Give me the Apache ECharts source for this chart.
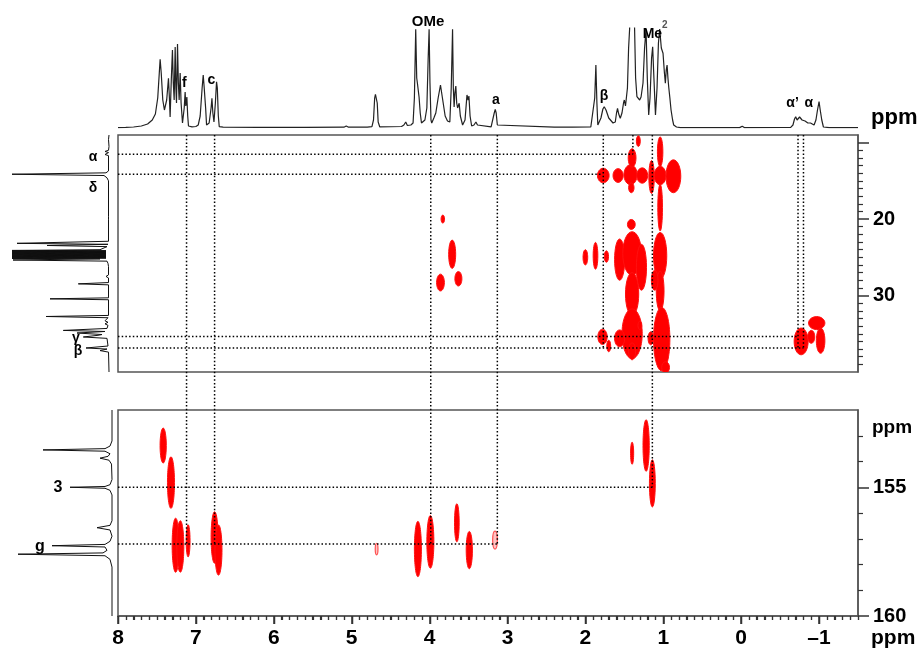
<!DOCTYPE html>
<html><head><meta charset="utf-8">
<script src="https://cdn.jsdelivr.net/npm/echarts@6/dist/echarts.min.js"></script>
<style>html,body{margin:0;padding:0;background:#fff}#c{width:923px;height:659px}</style>
</head><body><div id="c"></div>
<script>
// ---------- DATA ----------
// 1H projection (top): [ppm, intensity]
const protonTrace = [
[8.00,0.3],[7.90,0.6],[7.80,1.0],[7.70,2.0],[7.62,4],[7.56,8],[7.52,14],[7.49,30],[7.47,55],[7.459,68.7],[7.445,55],[7.425,28],[7.404,18],[7.375,28],[7.352,49.7],[7.34,30],[7.331,11],[7.315,50],[7.301,78],[7.29,45],[7.279,28],[7.266,81],[7.257,40],[7.249,25],[7.236,84],[7.225,45],[7.215,28],[7.202,55],[7.19,25],[7.172,5],[7.15,20],[7.138,36],[7.13,22],[7.125,20],[7.116,31],[7.105,12],[7.095,2],[7.05,1.2],[7.00,1.5],[6.97,3],[6.945,12],[6.92,40],[6.906,53],[6.895,42],[6.885,41],[6.875,20],[6.863,3],[6.83,5],[6.805,20],[6.794,29.7],[6.782,15],[6.768,6],[6.75,25],[6.735,46.3],[6.725,40],[6.712,12],[6.70,1.3],[6.65,0.8],[6.2,0.6],[5.6,0.6],[5.1,0.8],[5.07,2],[5.04,0.8],[4.80,0.8],[4.74,1.3],[4.72,8],[4.705,30],[4.695,33.7],[4.685,33],[4.672,25],[4.66,6],[4.64,1.2],[4.36,1.5],[4.33,3],[4.306,6],[4.285,2.5],[4.24,3],[4.212,5],[4.195,30],[4.178,98.7],[4.165,50],[4.155,44],[4.135,31],[4.12,15],[4.104,5],[4.08,6],[4.06,8],[4.035,20],[4.018,70],[4.006,98.7],[3.995,45],[3.982,8],[3.972,5],[3.945,10],[3.92,15],[3.89,30],[3.86,43],[3.835,30],[3.80,12],[3.77,7],[3.74,6],[3.722,40],[3.705,98.7],[3.695,40],[3.685,21],[3.675,35],[3.663,42],[3.652,25],[3.64,20],[3.62,24.7],[3.605,12],[3.576,3],[3.545,8],[3.52,33],[3.512,33.7],[3.505,28],[3.495,32],[3.48,12],[3.46,2],[3.43,3],[3.405,6],[3.385,3],[3.36,1.2],[3.21,1.2],[3.19,2],[3.17,15],[3.157,18.7],[3.145,15],[3.13,3],[3.11,1],[2.40,0.8],[2.21,0.8],[2.187,2.5],[2.165,0.8],[1.93,1],[1.905,3],[1.88,30],[1.865,63],[1.852,25],[1.84,3],[1.80,10],[1.775,19],[1.758,21.3],[1.735,18],[1.70,10],[1.68,8],[1.645,5],[1.616,6],[1.60,15],[1.587,19.7],[1.572,14],[1.552,9.7],[1.53,15],[1.51,25],[1.50,28],[1.485,22],[1.475,20],[1.46,40],[1.445,80],[1.432,99],[1.40,180],[1.368,99],[1.355,50],[1.338,31.3],[1.32,30],[1.303,28],[1.285,31],[1.26,45],[1.24,80],[1.221,99],[1.205,50],[1.187,13],[1.17,30],[1.15,70],[1.136,81.3],[1.12,50],[1.10,13],[1.08,40],[1.062,85],[1.046,99],[1.025,80],[1.003,74.7],[0.985,55],[0.973,44.7],[0.962,58],[0.951,63],[0.94,50],[0.93,41],[0.915,30],[0.90,18],[0.88,8],[0.866,3],[0.83,1],[0.78,0.4],[0.4,0.4],[0.02,0.4],[-0.014,1.8],[-0.04,0.4],[-0.55,0.5],[-0.636,0.6],[-0.665,3],[-0.685,9],[-0.70,11.3],[-0.718,8],[-0.735,8],[-0.75,11],[-0.764,13],[-0.782,8],[-0.80,6],[-0.82,7],[-0.84,8],[-0.856,5],[-0.872,3],[-0.89,5],[-0.90,6],[-0.915,4],[-0.936,3],[-0.96,8],[-0.98,18],[-1.0,26.3],[-1.015,18],[-1.035,8],[-1.056,1],[-1.13,0.3],[-1.5,0.3]
];
// 13C projection, aliphatic region (left of middle panel): [intensity, ppm]
const carbonAliphTrace = [
[1,9],[1.5,9.6],[3,9.7],[1.5,9.8],[1,10.5],[1.5,11.0],[5,11.15],[1.5,11.3],[5,11.55],[1.5,11.7],[1.5,13.7],[4,13.95],[98,14.13],[6,14.3],[3,14.6],[1.5,15],[1.5,19.7],[3,19.9],[1.5,20.1],[1.5,22.9],[93,23.17],[2,23.3],[63,23.45],[3,23.6],[10,24.0],[98,24.1],[4,24.14],[98,24.18],[4,24.22],[98,24.26],[4,24.3],[98,24.34],[4,24.38],[98,24.42],[4,24.46],[98,24.5],[4,24.54],[98,24.58],[4,24.62],[98,24.66],[4,24.7],[98,24.74],[4,24.78],[98,24.82],[4,24.86],[98,24.9],[4,24.94],[98,24.98],[4,25.02],[98,25.06],[4,25.1],[98,25.14],[10,25.2],[97,25.35],[3,25.5],[2,25.8],[1.5,26.2],[1.5,27.3],[4,27.5],[1.5,27.7],[1.5,28.3],[31.7,28.47],[1.5,28.6],[1.5,30.3],[60,30.43],[1.5,30.55],[1.5,32.6],[64,32.74],[2,32.9],[5,33.3],[2,33.5],[5,33.7],[2,33.9],[3,34.3],[46.7,34.56],[5,34.7],[33,34.9],[8,35.1],[12,35.2],[26.7,35.42],[3,35.6],[2,36.6],[24,36.86],[3,37.0],[10,37.2],[1.5,37.4],[1,40]
];
// 13C projection, aromatic region (left of bottom panel): [intensity, ppm]
const carbonAromTrace = [
[1,152],[1,153.2],[3,153.4],[8,153.5],[70,153.55],[8,153.6],[3,153.7],[5,153.8],[13,153.87],[4,153.95],[1.5,154.1],[1,154.7],[3,154.9],[8,154.97],[43,155.0],[8,155.04],[3,155.12],[1,155.3],[1,156.3],[3,156.48],[16,156.57],[3,156.66],[1,156.9],[3,157.1],[8,157.22],[61,157.27],[8,157.32],[6,157.45],[10,157.55],[95,157.6],[8,157.66],[3,157.8],[1,158.1],[1,160]
];
// Aliphatic cross peaks: [1H ppm, 13C ppm, 1H width, 13C width]
const aliphCross = [
[1.77,14.3,0.15,1.9],[1.58,14.3,0.13,1.8],[1.42,14.2,0.17,2.6],[1.27,14.3,0.14,2.0],[1.40,12.0,0.10,2.4],[1.32,9.8,0.05,1.4],[1.41,15.9,0.07,1.3],[1.15,14.5,0.07,4.3],[1.04,14.3,0.15,2.4],[0.87,14.4,0.19,4.3],
[1.04,11.2,0.07,3.9],[1.04,18.5,0.06,6.1],[1.04,24.8,0.17,6.1],[1.04,29.4,0.10,5.2],[1.02,35.7,0.21,8.3],
[2.00,25.0,0.06,2.0],[1.87,24.8,0.06,3.5],[1.73,24.9,0.055,1.5],[1.56,25.3,0.13,5.4],[1.40,24.5,0.24,5.7],[1.41,20.7,0.10,1.3],[1.28,26.3,0.13,6.0],[1.11,28.0,0.085,2.6],
[1.40,29.8,0.17,5.6],[1.40,35.0,0.26,6.5],[1.78,35.4,0.12,2.0],[1.70,36.6,0.05,1.5],[1.56,35.6,0.13,2.2],[1.30,33.9,0.05,1.1],[1.16,35.6,0.07,1.7],[1.40,37.3,0.09,2.2],[0.97,39.4,0.10,1.5],
[-0.77,36.0,0.18,3.5],[-0.97,33.6,0.21,1.7],[-1.02,35.9,0.11,3.3],[-0.90,35.4,0.09,1.7],
[3.83,20.0,0.045,1.05],[3.71,24.6,0.09,3.7],[3.86,28.3,0.10,2.2],[3.63,27.8,0.09,1.9]
];
// Aromatic / carbonyl-region cross peaks: [1H ppm, 13C ppm, 1H width, 13C width]
const aromCross = [
[7.42,153.38,0.08,1.36],[7.32,154.82,0.09,2.0],[7.26,157.25,0.09,2.1],[7.20,157.3,0.09,2.0],[7.10,157.08,0.05,1.25],
[6.76,156.95,0.09,2.0],[6.71,157.44,0.09,1.95],[4.15,157.4,0.09,2.15],[3.99,157.12,0.09,2.05],[3.65,156.38,0.06,1.48],[3.49,157.44,0.08,1.45],
[1.40,153.68,0.04,0.86],[1.22,153.38,0.08,2.0],[1.14,154.85,0.075,1.83]
];
const aromCrossWeak = [[4.68,157.4,0.035,0.45],[3.16,157.05,0.06,0.7]];
// Axis ticks / labels
const xMajorTicks = [8,7,6,5,4,3,2,1,0,-1];
const aliphMajorTicks = [10,20,30];
const aliphTickLabels = [20,30];
const aromMajorTicks = [155,160];
const aromTickLabels = [155,160];
// Assignment dotted lines
const vLines = [[7.12,'bot',157.2],[6.76,'bot',157.2],[3.985,'bot',157.2],[3.13,'bot',157.2],[1.77,'mid',36.86],[1.39,'mid',11.53],[1.14,'bot',155.0],[-0.73,'mid',36.86],[-0.80,'mid',36.86]];
const hLines = [['mid',11.53,1.39],['mid',14.13,1.78],['mid',35.35,-0.73],['mid',36.86,-0.80],['bot',155.0,1.14],['bot',157.2,3.13]];
// Peak labels
const topLabels = [['f',7.15,45],['c',6.80,48],['OMe',4.02,106],['a',3.15,28],['β',1.76,32],['α’',-0.66,25],['α',-0.87,25],['Me',1.14,94]];
const leftMidLabels = [['α',17,11.9],['δ',17,15.9],['γ',34,35.6],['β',32,37.3]];
const leftBotLabels = [['3',55,155.0],['g',73,157.3]];

// ---------- CHART ----------
const FONT = '"Liberation Sans", Arial, sans-serif';
const aliphMinor = []; for (let v = 10; v < 40; v++) if (!aliphMajorTicks.includes(v)) aliphMinor.push(v);
const aromMinor = []; for (let v = 153; v < 160; v++) if (!aromMajorTicks.includes(v)) aromMinor.push(v);
const xMinor = []; for (let i = -15; i <= 80; i++) { if (i % 10 !== 0) xMinor.push(i / 10); }

const TICK = '#333';
const frame = {show:true, borderColor:'#555', borderWidth:1.5};
const hidden = {show:false};
const noLine = {show:false, onZero:false};
function ellipseItem(fill, stroke, lw) {
  return function(p, api) {
    const c = api.coord([api.value(0), api.value(1)]);
    const s = api.size([api.value(2), api.value(3)], [api.value(0), api.value(1)]);
    return {type:'ellipse', shape:{cx:c[0], cy:c[1], rx:Math.max(s[0]/2,1), ry:Math.max(s[1]/2,1)},
            style:{fill:fill, stroke:stroke, lineWidth:lw}};
  };
}
const xBase = {type:'value', min:-1.5, max:8, inverse:true};
const midRect = {left:118, right:65, top:135, height:237};
const botRect = {left:118, right:65, top:410, height:206};
const axisLineStyle = {show:true, onZero:false, lineStyle:{color:'#555', width:1.5}};
const labelFont = {fontSize:20, fontWeight:'bold', fontFamily:FONT, color:'#000'};
const option = {
  animation:false,
  grid:[
    {left:118, right:65, top:28, height:100},
    Object.assign({}, midRect, frame),
    Object.assign({}, botRect, frame),
    {left:5, width:105, top:135, height:237},
    {left:5, width:108, top:410, height:206},
    Object.assign({}, midRect),
    Object.assign({}, botRect)
  ],
  xAxis:[
    Object.assign({gridIndex:0, show:false, axisLine:noLine}, xBase),
    Object.assign({gridIndex:1, show:false, axisLine:noLine}, xBase),
    Object.assign({gridIndex:2, position:'bottom', axisLine:axisLineStyle,
      axisTick:{show:true, length:8, customValues:xMajorTicks, lineStyle:{color:TICK, width:1.5}},
      axisLabel:Object.assign({show:true, customValues:xMajorTicks, margin:12, fontSize:21,
        formatter:v => String(v).replace('-', '–')}, {fontWeight:'bold', fontFamily:FONT, color:'#000'}),
      splitLine:hidden}, xBase),
    Object.assign({gridIndex:6, position:'bottom', axisLine:noLine,
      axisTick:{show:true, length:4, customValues:xMinor, lineStyle:{color:TICK, width:1.2}},
      axisLabel:hidden, splitLine:hidden}, xBase),
    {gridIndex:3, type:'value', min:0, max:105, inverse:true, show:false, axisLine:noLine},
    {gridIndex:4, type:'value', min:0, max:108, inverse:true, show:false, axisLine:noLine},
    Object.assign({gridIndex:5, show:false, axisLine:noLine}, xBase)
  ],
  yAxis:[
    {gridIndex:0, type:'value', min:0, max:100, show:false, axisLine:noLine},
    {gridIndex:1, type:'value', min:9, max:40, inverse:true, position:'right', axisLine:axisLineStyle,
      axisTick:{show:true, length:11, customValues:aliphMajorTicks, lineStyle:{color:TICK, width:1.5}},
      axisLabel:Object.assign({show:true, customValues:aliphTickLabels, margin:15}, labelFont),
      splitLine:hidden},
    {gridIndex:5, type:'value', min:9, max:40, inverse:true, position:'right', axisLine:noLine,
      axisTick:{show:true, length:5, customValues:aliphMinor, lineStyle:{color:TICK, width:1.2}},
      axisLabel:hidden, splitLine:hidden},
    {gridIndex:2, type:'value', min:152, max:160, inverse:true, position:'right', axisLine:axisLineStyle,
      axisTick:{show:true, length:11, customValues:aromMajorTicks, lineStyle:{color:TICK, width:1.5}},
      axisLabel:Object.assign({show:true, customValues:aromTickLabels, margin:15}, labelFont),
      splitLine:hidden},
    {gridIndex:6, type:'value', min:152, max:160, inverse:true, position:'right', axisLine:noLine,
      axisTick:{show:true, length:5, customValues:aromMinor, lineStyle:{color:TICK, width:1.2}},
      axisLabel:hidden, splitLine:hidden},
    {gridIndex:3, type:'value', min:9, max:40, inverse:true, show:false, axisLine:noLine},
    {gridIndex:4, type:'value', min:152, max:160, inverse:true, show:false, axisLine:noLine}
  ],
  series:[
    {type:'line', xAxisIndex:0, yAxisIndex:0, data:protonTrace, symbol:'none', clip:true,
      lineStyle:{color:'#222', width:1.2}},
    {type:'line', xAxisIndex:4, yAxisIndex:5, data:carbonAliphTrace, symbol:'none',
      lineStyle:{color:'#111', width:1}},
    {type:'line', xAxisIndex:5, yAxisIndex:6, data:carbonAromTrace, symbol:'none',
      lineStyle:{color:'#111', width:1}},
    {type:'custom', xAxisIndex:1, yAxisIndex:1, data:aliphCross, encode:{x:0, y:1}, clip:true,
      renderItem:ellipseItem('#ff0000', '#ff1010', 1)},
    {type:'custom', xAxisIndex:2, yAxisIndex:3, data:aromCross, encode:{x:0, y:1}, clip:true,
      renderItem:ellipseItem('#ff0000', '#ff1010', 1)},
    {type:'custom', xAxisIndex:2, yAxisIndex:3, data:aromCrossWeak, encode:{x:0, y:1}, clip:true,
      renderItem:ellipseItem('rgba(255,80,80,0.35)', '#ff5050', 1.2)}
  ]
};
const chart = echarts.init(document.getElementById('c'), null, {renderer:'canvas'});
chart.setOption(option);

// dotted assignment lines, tick marks and labels via axis conversions
const X = v => chart.convertToPixel({xAxisIndex:2}, v);
const Y = {mid: v => chart.convertToPixel({yAxisIndex:1}, v), bot: v => chart.convertToPixel({yAxisIndex:3}, v)};
const g = [];
const dot = {stroke:'#000', lineWidth:1.5, lineDash:[1.5, 2.2]};
vLines.forEach(([x, panel, end]) => {
  g.push({type:'line', z:100, silent:true, shape:{x1:X(x), y1:Y.mid(9), x2:X(x), y2:Y[panel](end)}, style:Object.assign({}, dot)});
});
hLines.forEach(([panel, y, xe]) => {
  g.push({type:'line', z:100, silent:true, shape:{x1:X(8), y1:Y[panel](y), x2:X(xe), y2:Y[panel](y)}, style:Object.assign({}, dot)});
});
const yb = Y.bot(160);
xMajorTicks.forEach(v => { const x = Math.round(X(v)) + 0.5;
  g.push({type:'line', z:150, silent:true, shape:{x1:x, y1:yb, x2:x, y2:yb + 8}, style:{stroke:TICK, lineWidth:1.5}}); });
xMinor.forEach(v => { const x = Math.round(X(v)) + 0.5;
  g.push({type:'line', z:150, silent:true, shape:{x1:x, y1:yb, x2:x, y2:yb + 4}, style:{stroke:TICK, lineWidth:1.2}}); });
function txt(t, x, y, size, align) {
  return {type:'text', z:101, silent:true, style:{text:t, x:x, y:y, fill:'#000', font:'bold ' + size + 'px ' + FONT,
    align:align || 'center', textAlign:align || 'center', verticalAlign:'middle', textVerticalAlign:'middle'}};
}
topLabels.forEach(([t, x, h]) => {
  const p = chart.convertToPixel({xAxisIndex:0, yAxisIndex:0}, [x, h]);
  g.push(txt(t, p[0], p[1], t === 'OMe' ? 15 : 14));
});
{ const p = chart.convertToPixel({xAxisIndex:0, yAxisIndex:0}, [0.98, 103]);
  const t = txt('2', p[0], p[1], 10); t.style.fill = '#555'; g.push(t); }
leftMidLabels.forEach(([t, h, y]) => {
  const p = chart.convertToPixel({xAxisIndex:4, yAxisIndex:5}, [h, y]);
  g.push(txt(t, p[0], p[1], 14));
});
leftBotLabels.forEach(([t, h, y]) => {
  const p = chart.convertToPixel({xAxisIndex:5, yAxisIndex:6}, [h, y]);
  g.push(txt(t, p[0], p[1], 16));
});
g.push(txt('ppm', 871, 118, 22, 'left'));
g.push(txt('ppm', 872, 428, 19, 'left'));
g.push(txt('ppm', 871, 638, 21, 'left'));
chart.setOption({graphic:g});
</script></body></html>
